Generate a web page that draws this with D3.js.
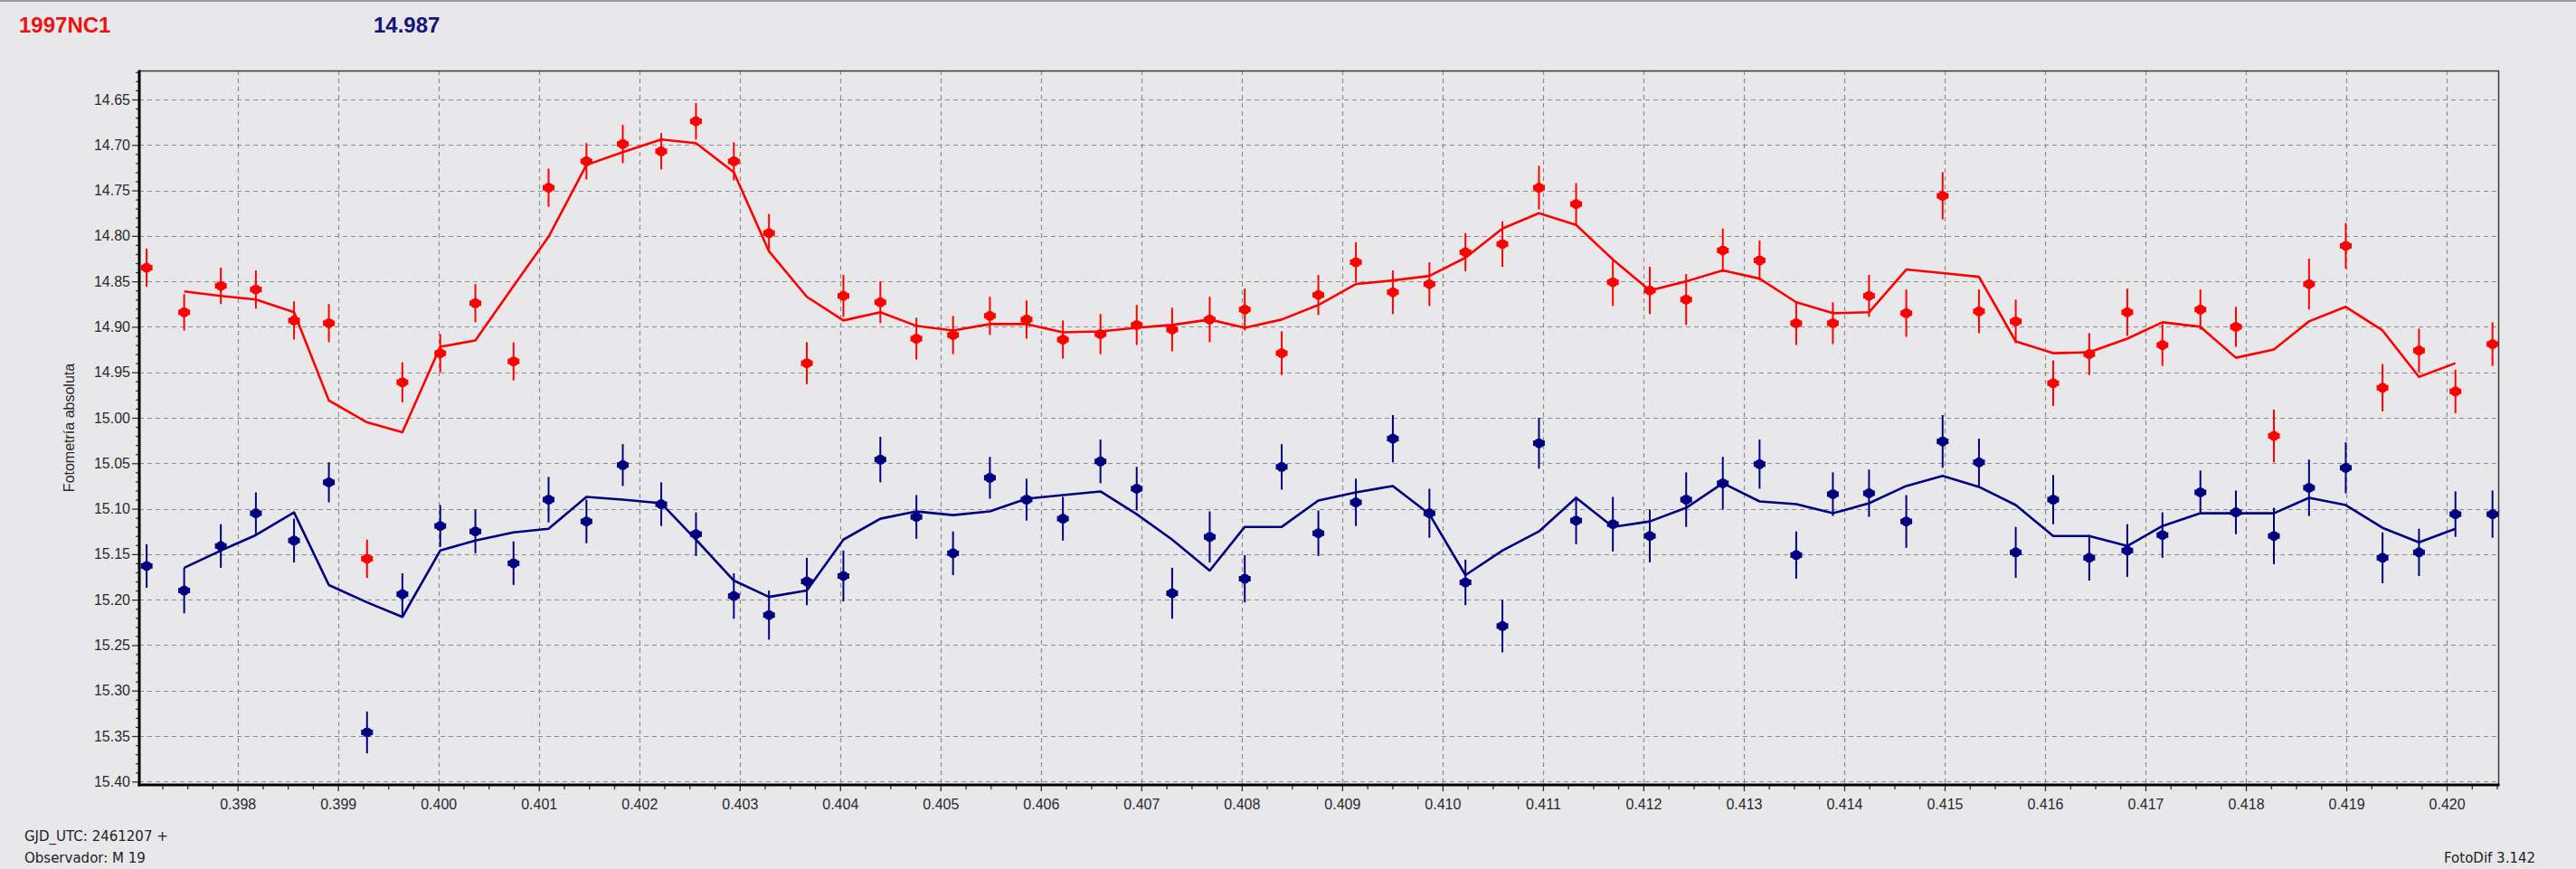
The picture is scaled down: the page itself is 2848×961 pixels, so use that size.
<!DOCTYPE html>
<html>
<head>
<meta charset="utf-8">
<script src="https://cdn.jsdelivr.net/npm/d3@7"></script>
<style>
html,body{margin:0;padding:0;background:#e8e8ea;}
svg{display:block;}
</style>
</head>
<body>
<svg id="chart" width="2848" height="961"></svg>
<script>
// ---- data (GJD_UTC - 2461207) ----
const jd = [
0.397094,0.397468,0.397833,0.398182,0.398562,0.398909,0.399289,0.399641,0.400018,0.400368,0.400748,0.401097,0.401474,
0.401836,0.402219,0.402565,0.402942,0.403292,0.403669,0.404033,0.404401,0.404760,0.405125,0.405492,0.405857,0.406219,
0.406593,0.406954,0.407307,0.407681,0.408030,0.408398,0.408763,0.409137,0.409505,0.409869,0.410228,0.410596,0.410960,
0.411330,0.411696,0.412064,0.412426,0.412791,0.413157,0.413522,0.413887,0.414247,0.414618,0.414980,0.415342,0.415708,
0.416081,0.416440,0.416819,0.417169,0.417547,0.417901,0.418279,0.418629,0.418995,0.419361,0.419724,0.420087,0.420456];

const redMag = [
14.835,14.884,14.855,14.859,14.893,14.896,15.155,14.961,14.929,14.874,14.938,14.747,14.718,
14.699,14.707,14.674,14.718,14.797,14.940,14.866,14.873,14.913,14.909,14.888,14.892,14.914,
14.908,14.898,14.903,14.892,14.881,14.929,14.865,14.829,14.862,14.853,14.818,14.809,14.747,
14.765,14.851,14.860,14.870,14.816,14.827,14.896,14.896,14.866,14.885,14.756,14.883,14.894,
14.962,14.930,14.884,14.920,14.881,14.900,15.020,14.853,14.811,14.967,14.926,14.971,14.919];

const redErr = [
.021,.020,.020,.021,.021,.021,.021,.022,.021,.021,.021,.021,.020,
.021,.020,.020,.021,.021,.023,.023,.023,.023,.021,.021,.021,.021,
.022,.022,.024,.025,.023,.024,.022,.022,.024,.024,.021,.025,.024,
.023,.026,.026,.028,.024,.022,.024,.023,.023,.026,.026,.024,.024,
.025,.023,.026,.023,.022,.022,.029,.028,.025,.026,.024,.024,.024];

const redFit = [
null,14.861,14.866,14.870,14.884,14.981,15.005,15.016,14.922,14.915,14.855,14.801,14.722,
14.708,14.694,14.698,14.730,14.817,14.867,14.893,14.884,14.899,14.904,14.897,14.897,14.906,
14.905,14.901,14.898,14.892,14.901,14.892,14.876,14.853,14.849,14.844,14.824,14.792,14.775,
14.788,14.826,14.860,14.850,14.838,14.847,14.873,14.885,14.884,14.837,14.841,14.845,14.916,
14.929,14.928,14.913,14.895,14.900,14.934,14.925,14.894,14.878,14.904,14.955,14.940,null];

const blueMag = [
15.163,15.190,15.141,15.105,15.135,15.071,15.346,15.194,15.119,15.125,15.160,15.090,15.114,
15.052,15.095,15.128,15.196,15.217,15.180,15.174,15.046,15.109,15.149,15.066,15.090,15.111,
15.048,15.078,15.193,15.131,15.177,15.054,15.127,15.093,15.023,15.105,15.181,15.229,15.028,
15.113,15.117,15.130,15.090,15.072,15.051,15.151,15.084,15.083,15.114,15.026,15.049,15.148,
15.090,15.154,15.146,15.129,15.082,15.104,15.130,15.077,15.055,15.154,15.148,15.106,15.106];

const blueErr = [
.024,.025,.024,.023,.024,.022,.023,.023,.023,.024,.024,.025,.024,
.023,.024,.024,.025,.027,.026,.028,.025,.024,.024,.023,.023,.024,
.024,.024,.028,.028,.026,.025,.025,.026,.026,.027,.025,.029,.028,
.026,.030,.029,.030,.029,.027,.026,.024,.026,.029,.029,.026,.028,
.027,.025,.029,.025,.024,.024,.031,.031,.028,.028,.026,.025,.026];

const blueFit = [
null,15.165,15.146,15.129,15.104,15.184,15.203,15.219,15.146,15.135,15.126,15.122,15.087,
15.090,15.094,15.134,15.179,15.197,15.190,15.134,15.111,15.103,15.107,15.103,15.089,15.085,
15.081,15.106,15.134,15.168,15.120,15.120,15.091,15.082,15.075,15.106,15.173,15.146,15.125,
15.088,15.120,15.114,15.099,15.072,15.092,15.095,15.105,15.094,15.075,15.064,15.076,15.096,
15.130,15.130,15.141,15.119,15.105,15.105,15.105,15.088,15.096,15.121,15.137,15.122,null];

const yTicks = [14.65,14.70,14.75,14.80,14.85,14.90,14.95,15.00,15.05,15.10,15.15,15.20,15.25,15.30,15.35,15.40];
const xTicks = [0.398,0.399,0.400,0.401,0.402,0.403,0.404,0.405,0.406,0.407,0.408,0.409,0.410,0.411,0.412,0.413,0.414,0.415,0.416,0.417,0.418,0.419,0.420];

const titleName = "1997NC1";
const titleValue = "14.987";
const yLabel = "Fotometría absoluta";
const footLeft = ["GJD_UTC: 2461207 +", "Observador: M 19"];
const footRight = "FotoDif 3.142";

// ---- layout ----
const svg = d3.select("#chart");
const W = 2848, H = 961;
const L = 154, R = 2763, T = 78, B = 868;
const RED = "#ff0000", NAVY = "#000080";
const FONT = "'Liberation Sans', Arial, sans-serif";

svg.append("rect").attr("width", W).attr("height", H).attr("fill", "#e8e8ea");
svg.append("rect").attr("x", 0).attr("y", 0).attr("width", W).attr("height", 2).attr("fill", "#9a9a9a");

const x = d3.scaleLinear().domain([0.397021, 0.420522]).range([L, R]);
const y = d3.scaleLinear().domain([14.6182, 15.4037]).range([T, B]);

// grid
const grid = svg.append("g").attr("stroke", "#8c8c8c").attr("stroke-width", 1.2).attr("stroke-dasharray", "5,4");
grid.selectAll("line.h").data(yTicks).join("line")
  .attr("x1", L).attr("x2", R).attr("y1", d => Math.round(y(d)) + 0.5).attr("y2", d => Math.round(y(d)) + 0.5);
grid.selectAll("line.v").data(xTicks).join("line")
  .attr("y1", T).attr("y2", B).attr("x1", d => Math.round(x(d)) + 0.5).attr("x2", d => Math.round(x(d)) + 0.5);

// minor ticks
const yMinor = d3.range(Math.round(14.62 * 100), Math.round(15.40 * 100) + 1).map(v => v / 100)
  .filter(v => yTicks.indexOf(v) < 0);
const xMinor = d3.range(Math.round(0.39725 * 100000), Math.round(0.42050 * 100000) + 1, 25).map(v => v / 100000)
  .filter(v => xTicks.every(t => Math.abs(t - v) > 1e-7));

const yAxisMinor = svg.append("g").attr("transform", `translate(${L},0)`)
  .call(d3.axisLeft(y).tickValues(yMinor).tickSize(4).tickFormat(""));
const xAxisMinor = svg.append("g").attr("transform", `translate(0,${B})`)
  .call(d3.axisBottom(x).tickValues(xMinor).tickSize(5).tickFormat(""));

const yAxis = svg.append("g").attr("transform", `translate(${L - 1},0)`)
  .call(d3.axisLeft(y).tickValues(yTicks).tickSize(7).tickPadding(2).tickFormat(d3.format(".2f")));
const xAxis = svg.append("g").attr("transform", `translate(0,${B})`)
  .call(d3.axisBottom(x).tickValues(xTicks).tickSize(7).tickPadding(9).tickFormat(d3.format(".3f")));

[yAxisMinor, xAxisMinor, yAxis, xAxis].forEach(g => {
  g.select(".domain").remove();
  g.selectAll(".tick line").attr("stroke", "#333").attr("stroke-width", 1.3);
  g.selectAll("text").attr("font-family", FONT).attr("font-size", 16).attr("fill", "#2a2a2a");
});

// frame
svg.append("line").attr("x1", L).attr("x2", R).attr("y1", T + 0.5).attr("y2", T + 0.5).attr("stroke", "#3a3a3a").attr("stroke-width", 1.5);
svg.append("line").attr("x1", R - 0.5).attr("x2", R - 0.5).attr("y1", T).attr("y2", B).attr("stroke", "#3a3a3a").attr("stroke-width", 1.5);
svg.append("line").attr("x1", L).attr("x2", L).attr("y1", T - 0.5).attr("y2", B + 1.5).attr("stroke", "#000").attr("stroke-width", 3);
svg.append("line").attr("x1", L - 1.5).attr("x2", R + 0.5).attr("y1", B).attr("y2", B).attr("stroke", "#000").attr("stroke-width", 3);

// series
function series(mag, err, fit, color) {
  const g = svg.append("g");
  const fitPts = jd.map((d, i) => [d, fit[i]]);
  g.append("path")
    .datum(fitPts)
    .attr("fill", "none").attr("stroke", color).attr("stroke-width", 2.6).attr("stroke-linejoin", "round")
    .attr("d", d3.line().defined(d => d[1] !== null).x(d => x(d[0])).y(d => y(d[1])));
  const pts = jd.map((d, i) => ({x: d, m: mag[i], e: err[i]}));
  g.selectAll("line.err").data(pts).join("line")
    .attr("x1", d => x(d.x)).attr("x2", d => x(d.x))
    .attr("y1", d => y(d.m - d.e)).attr("y2", d => y(d.m + d.e))
    .attr("stroke", color).attr("stroke-width", 2);
  g.selectAll("circle").data(pts).join("circle")
    .attr("cx", d => x(d.x)).attr("cy", d => y(d.m)).attr("r", 5.5)
    .attr("fill", color);
  g.selectAll("rect.h").data(pts).join("rect")
    .attr("x", d => x(d.x) - 6.5).attr("y", d => y(d.m) - 3).attr("width", 13).attr("height", 6)
    .attr("fill", color);
}
series(redMag, redErr, redFit, RED);
series(blueMag, blueErr, blueFit, NAVY);

// titles
svg.append("text").attr("x", 21).attr("y", 36).attr("font-family", FONT).attr("font-weight", "bold")
  .attr("font-size", 24).attr("fill", "#ee1111").text(titleName);
svg.append("text").attr("x", 413).attr("y", 36).attr("font-family", FONT).attr("font-weight", "bold")
  .attr("font-size", 24).attr("fill", "#14147a").text(titleValue);

// y label
svg.append("text").attr("transform", `translate(81.5,${(T + B) / 2}) rotate(-90)`)
  .attr("text-anchor", "middle").attr("font-family", FONT).attr("font-size", 16).attr("fill", "#2a2a2a")
  .text(yLabel);

// footers
const FOOT = "'DejaVu Sans', Verdana, sans-serif";
svg.selectAll("text.foot").data(footLeft).join("text")
  .attr("x", 27).attr("y", (d, i) => 930 + i * 23.5)
  .attr("font-family", FOOT).attr("font-size", 15).attr("fill", "#222").text(d => d);
svg.append("text").attr("x", 2702).attr("y", 954).attr("font-family", FOOT).attr("font-size", 15)
  .attr("fill", "#222").text(footRight);
</script>
</body>
</html>
